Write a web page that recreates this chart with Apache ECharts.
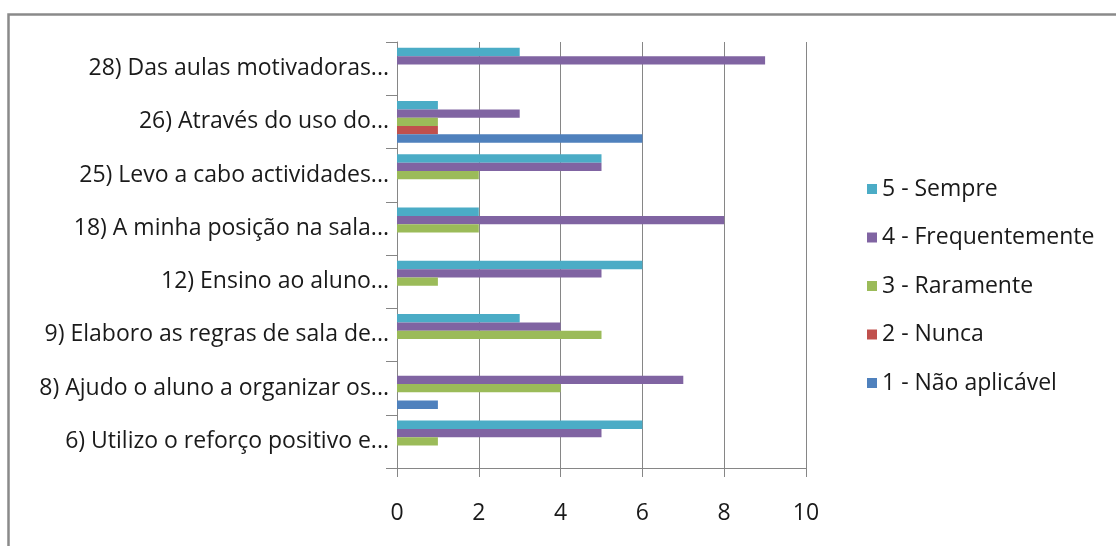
<!DOCTYPE html>
<html><head><meta charset="utf-8">
<script src="https://cdn.jsdelivr.net/npm/echarts@6/dist/echarts.min.js"></script>
<style>html,body{margin:0;padding:0;background:#fff}#c{width:1116px;height:546px}</style>
</head><body><div id="c"></div>
<script>
const categories = ['6) Utilizo o reforço positivo e...', '8) Ajudo o aluno a organizar os...', '9) Elaboro as regras de sala de...', '12) Ensino ao aluno...', '18) A minha posição na sala...', '25) Levo a cabo actividades...', '26) Através do uso do...', '28) Das aulas motivadoras...'];
const xTicks = [0, 2, 4, 6, 8, 10];
const sempre = [6, 0, 3, 6, 2, 5, 1, 3];
const frequentemente = [5, 7, 4, 5, 8, 5, 3, 9];
const raramente = [1, 4, 5, 1, 2, 2, 1, 0];
const nunca = [0, 0, 0, 0, 0, 0, 1, 0];
const naoAplicavel = [0, 1, 0, 0, 0, 0, 6, 0];
const seriesNames = ['5 - Sempre', '4 - Frequentemente', '3 - Raramente', '2 - Nunca', '1 - Não aplicável'];
const seriesData = [sempre, frequentemente, raramente, nunca, naoAplicavel];
const colors = ['#4BACC6', '#8064A2', '#9BBB59', '#C0504D', '#4F81BD'];

const FONT = 'Open Sans';
const chart = echarts.init(document.getElementById('c'), null, {renderer: 'canvas'});
chart.setOption({
  animation: false,
  color: colors,
  textStyle: {fontFamily: FONT},
  graphic: [{
    type: 'rect', left: 6, top: 12, shape: {width: 1200, height: 600},
    style: {fill: 'none', stroke: '#8a8a8a', lineWidth: 2.5}, silent: true
  }],
  grid: {left: 397, right: 310, top: 42, bottom: 78, containLabel: false},
  legend: {
    orient: 'vertical', left: 862, top: 172,
    itemWidth: 10, itemHeight: 10, itemGap: 24.5, icon: 'rect',
    textStyle: {fontFamily: FONT, fontSize: 23, color: '#1a1a1a', lineHeight: 24},
    data: seriesNames
  },
  xAxis: {
    type: 'value', min: 0, max: 10, interval: 2,
    axisLine: {show: true, lineStyle: {color: '#868686', width: 1}},
    axisTick: {show: true, length: 9, lineStyle: {color: '#868686'}},
    splitLine: {show: true, lineStyle: {color: '#868686', width: 1}},
    axisLabel: {margin: 34, fontSize: 23, color: '#1a1a1a', fontFamily: FONT,
      formatter: v => xTicks.includes(v) ? String(v) : ''}
  },
  yAxis: {
    type: 'category', data: categories,
    axisLine: {show: true, lineStyle: {color: '#868686', width: 1}},
    axisTick: {show: true, length: 11, lineStyle: {color: '#868686'}},
    axisLabel: {margin: 8, fontSize: 23, color: '#1a1a1a', fontFamily: FONT, padding: [2, 0, 0, 0]}
  },
  series: seriesNames.map((n, i) => ({
    name: n, type: 'bar', data: seriesData[i],
    barGap: '0%', barCategoryGap: '22%',
    itemStyle: {color: colors[i]}
  }))
});
</script></body></html>
